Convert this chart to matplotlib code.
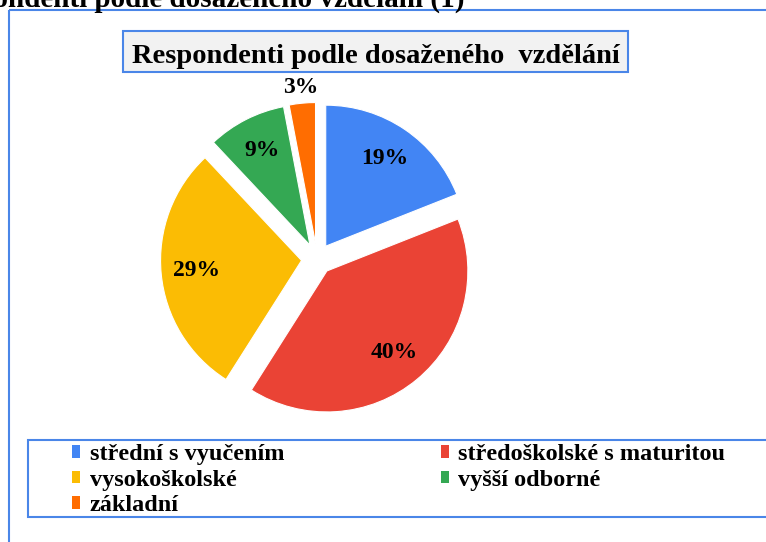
import matplotlib
matplotlib.use("Agg")
import matplotlib.pyplot as plt
import numpy as np
from matplotlib.patches import Rectangle, Patch

categories = ["střední s vyučením", "středoškolské s maturitou", "vysokoškolské",
              "vyšší odborné", "základní"]
values = [19, 40, 29, 9, 3]
slice_colors = ["#4285F4", "#EA4335", "#FBBC04", "#34A853", "#FF6D01"]
title = "Respondenti podle dosaženého  vzdělání"
page_heading = "Respondenti podle dosaženého vzdělání (1)"

BLUE = "#4A86E8"
FONT = "Liberation Serif"
W, H = 766, 542

fig = plt.figure(figsize=(W / 100, H / 100), dpi=100)
ax = fig.add_axes([0, 0, 1, 1])

# pie (pixel coordinates, y up); explode is in data units here
cx, cy, r = 317, H - 259, 141
wedges, texts, autotexts = ax.pie(
    values, colors=slice_colors, explode=[0.11 * r] * len(values),
    startangle=90, counterclock=False, center=(cx, cy), radius=r,
    autopct="%1.0f%%", pctdistance=0.75,
    wedgeprops=dict(edgecolor="white", linewidth=0.8),
    textprops=dict(fontfamily=FONT, fontweight="bold", fontsize=17, color="black"))

# the small slice gets its label outside
w = wedges[-1]
mid = np.deg2rad((w.theta1 + w.theta2) / 2)
autotexts[-1].set_position((w.center[0] + 1.11 * r * np.cos(mid),
                            w.center[1] + 1.11 * r * np.sin(mid)))

ax.set_xlim(0, W)
ax.set_ylim(0, H)
ax.set_aspect("equal")
ax.axis("off")

# outer frame (only left and top are visible)
ax.plot([9, 9], [0, H - 10], color=BLUE, lw=1.5, solid_capstyle="butt")
ax.plot([9, W + 5], [H - 10, H - 10], color=BLUE, lw=1.5, solid_capstyle="butt")

# cut heading at the top
ax.text(465, H - 7, page_heading, ha="right", va="baseline",
        fontfamily=FONT, fontweight="bold", fontsize=21)

# title box
ax.add_patch(Rectangle((123, H - 72), 505, 41, facecolor="#F2F2F2",
                       edgecolor=BLUE, lw=1.5))
ax.text(375.5, H - 63, title, ha="center", va="baseline",
        fontfamily=FONT, fontweight="bold", fontsize=20.5)

# legend box + legend
ax.add_patch(Rectangle((28, H - 517), W, 77, facecolor="white",
                       edgecolor=BLUE, lw=1.5))
order = [0, 2, 4, 1, 3]
handles = [Patch(facecolor=slice_colors[i], edgecolor="none") for i in order]
labels = [categories[i] for i in order]
ax.legend(handles, labels, ncol=2, loc="upper left",
          bbox_to_anchor=(72, H - 444), bbox_transform=ax.transData,
          frameon=False, borderpad=0, borderaxespad=0,
          handlelength=0.34, handleheight=0.42, handletextpad=0.38,
          labelspacing=0.19, columnspacing=6.45,
          prop=dict(family=FONT, weight="bold", size=17.5))

fig.savefig("out.png", dpi=100)
